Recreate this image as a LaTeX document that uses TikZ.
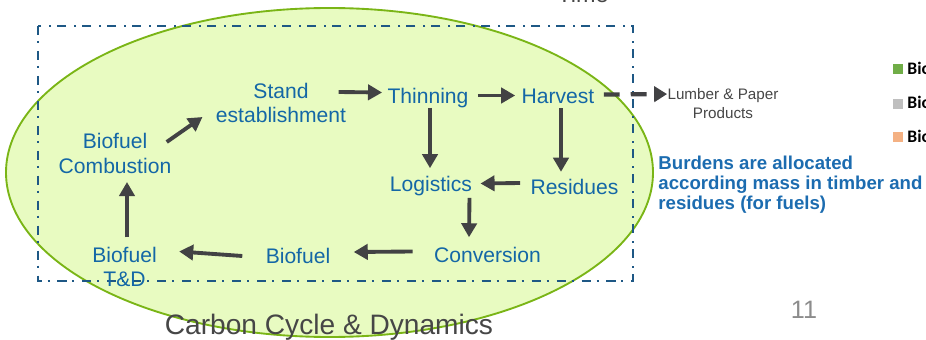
\documentclass[tikz,border=0pt]{standalone}
\usepackage{fontspec}
\setmainfont{Liberation Sans}
\newfontfamily\legendfont{Carlito}
\usetikzlibrary{positioning, arrows.meta, calc}

\definecolor{stageblue}{RGB}{20,103,166}
\definecolor{noteblue}{RGB}{28,108,176}
\definecolor{frameblue}{RGB}{30,88,133}
\definecolor{cyclefill}{RGB}{232,251,193}
\definecolor{cycleedge}{RGB}{122,181,22}
\definecolor{arrowgray}{RGB}{66,66,68}
\definecolor{labelgray}{RGB}{70,70,70}
\definecolor{pagegray}{RGB}{140,140,140}
\definecolor{keygreen}{RGB}{112,173,71}
\definecolor{keygray}{RGB}{191,191,191}
\definecolor{keyorange}{RGB}{244,177,131}

\begin{document}
\begin{tikzpicture}[%
		x=0.3mm, y=-0.3mm,
		stage/.style={
			text=stageblue,
			align=center,
			inner sep=0pt,
			font=\fontsize{18}{21}\selectfont
		},
		product/.style={
			text=labelgray,
			align=center,
			inner sep=0pt,
			font=\fontsize{13}{16}\selectfont
		},
		note/.style={
			text=noteblue,
			align=left,
			inner sep=0pt,
			font=\bfseries\fontsize{15.9}{16.8}\selectfont
		},
		legendkey/.style={
			rectangle,
			minimum size=3mm,
			inner sep=0pt
		},
		legendtext/.style={
			anchor=base west,
			inner sep=0pt,
			font=\legendfont\bfseries\fontsize{15}{17}\selectfont
		},
		cycle/.style={
			draw=cycleedge,
			fill=cyclefill,
			line width=1.6pt
		},
		boundary/.style={
			draw=frameblue,
			line width=1.7pt,
			dash pattern=on 7.7pt off 5.1pt on 1.7pt off 6.8pt
		},
		flow/.style={
			draw=arrowgray,
			line width=3.3pt,
			-{Triangle[length=12pt,width=13pt]}
		},
		coproduct/.style={
			draw=arrowgray,
			line width=3.6pt,
			dash pattern=on 13.6pt off 9.4pt,
			-{Triangle[length=11pt,width=13pt]}
		}, thick]

		\useasboundingbox (0,0) rectangle (926,340);
		\clip (0,0) rectangle (926,340);

		% CYCLE AND SYSTEM BOUNDARY

		\draw[cycle] (329.5,172.5) ellipse [x radius=323.5, y radius=164.5];
		\draw[boundary] (38,26) rectangle (633,281);

		% STAGES

		\node (comb) [stage] at (115,153.5) {Biofuel\\Combustion};
		\node (stand) [stage] at (281,103) {Stand\\establishment};
		\node (thin) [stage] at (428,98.5) {Thinning};
		\node (harv) [stage] at (558,96.5) {Harvest};
		\node (logi) [stage] at (431,186.5) {Logistics};
		\node (resi) [stage] at (574.5,187) {Residues};
		\node (conv) [stage] at (487.5,254.5) {Conversion};
		\node (biof) [stage] at (298,256) {Biofuel};
		\node (td) [stage] at (124.5,267) {Biofuel\\T\&D};

		\node (lumber) [product] at (723,103.5) {Lumber \& Paper\\Products};
		\node (alloc) [note, anchor=north west] at (658,156) {Burdens are allocated\\according mass in timber and\\residues (for fuels)};

		\node (title) [text=labelgray, anchor=base, inner sep=0pt, font=\fontsize{24}{28}\selectfont] at (329,334) {Carbon Cycle \& Dynamics};
		\node (time) [text=labelgray, anchor=base, inner sep=0pt, font=\fontsize{20}{24}\selectfont] at (583,3) {Time};
		\node (page) [text=pagegray, anchor=base, inner sep=0pt, font=\fontsize{21.5}{24}\selectfont] at (804,318) {11};

		% LEGEND

		\node (key1) [legendkey, fill=keygreen] at (898,69.5) {};
		\node (key2) [legendkey, fill=keygray] at (898,104) {};
		\node (key3) [legendkey, fill=keyorange] at (898,137.5) {};
		\node (item1) [legendtext] at (907,75) {Bio};
		\node (item2) [legendtext] at (907,109) {Bio};
		\node (item3) [legendtext] at (907,143) {Bio};

		% FLOW LINES

		\draw[flow] ($(comb.north east)+(-5,9)$) -- ($(stand.west)+(-13,14)$);
		\draw[flow] ($(stand.east)+(-8,-11)$) -- ($(thin.west)+(-5,-6)$);
		\draw[flow] ($(thin.east)+(9,-3)$) -- ($(harv.west)+(-6,-1)$);
		\draw[flow] ($(thin.south)+(2,-1)$) -- ($(logi.north)+(-1,-8)$);
		\draw[flow] ($(harv.south)+(3,4)$) -- ($(resi.north)+(-13.5,-7)$);
		\draw[flow] ($(resi.west)+(-10,-4)$) -- ($(logi.east)+(8,-3)$);
		\draw[flow] ($(logi.south east)+(-3,1)$) -- ($(conv.north)+(-18.5,-9)$);
		\draw[flow] ($(conv.west)+(-21,-3)$) -- ($(biof.east)+(23,-4)$);
		\draw[flow] ($(biof.west)+(-23,0)$) -- ($(td.north east)+(22,5)$);
		\draw[flow] ($(td.north)+(2.5,-9)$) -- ($(comb.south)+(12,8)$);

		% CO-PRODUCT LINE

		\draw[coproduct] ($(harv.east)+(9,-2)$) -- ($(lumber.north west)+(0,6)$);
\end{tikzpicture}
\end{document}
